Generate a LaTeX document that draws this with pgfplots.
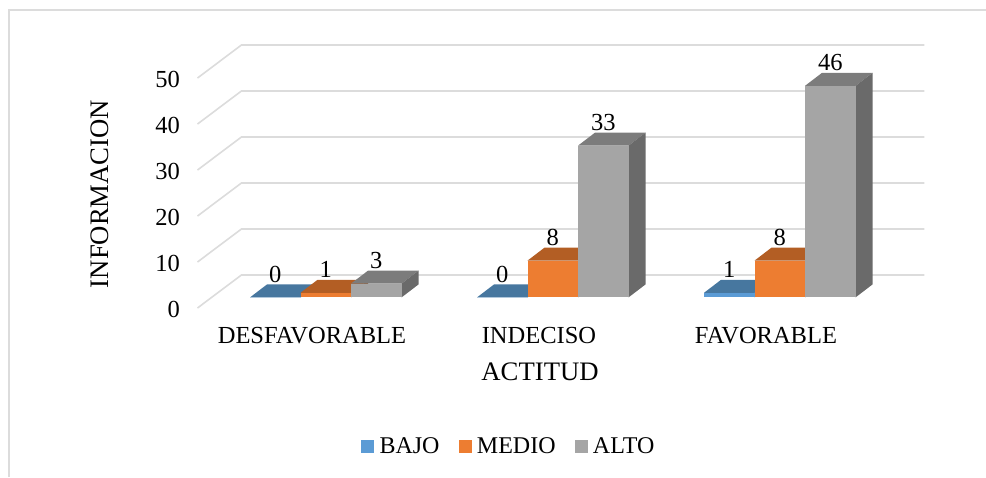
\documentclass[border=0pt]{standalone}
\usepackage{pgfplots}
\pgfplotsset{compat=1.18}
\usepackage{fontspec}
\setmainfont{Liberation Serif}
\definecolor{gridc}{HTML}{DCDCDC}
\definecolor{frontA}{HTML}{5B9BD5}\definecolor{topA}{HTML}{47779F}\definecolor{sideA}{HTML}{3A6690}
\definecolor{frontB}{HTML}{ED7D31}\definecolor{topB}{HTML}{B35E24}\definecolor{sideB}{HTML}{A05420}
\definecolor{frontC}{HTML}{A5A5A5}\definecolor{topC}{HTML}{7C7C7C}\definecolor{sideC}{HTML}{6A6A6A}
\newcommand{\fs}{\fontsize{24.5}{28}\selectfont}
\newcommand{\fl}{\fontsize{26.7}{30}\selectfont}
\def\W{0.2225}\def\B{2.3}\def\DX{0.0749}\def\DY{2.826}
% #1 category, #2 series (0,1,2), #3 value, #4 colour suffix
\newcommand{\threeDbar}[4]{%
  \pgfmathsetmacro\xl{#1-0.2687+\W*#2}%
  \pgfmathsetmacro\xr{\xl+\W}%
  \pgfmathsetmacro\xlb{\xl+\DX}%
  \pgfmathsetmacro\xrb{\xr+\DX}%
  \pgfmathsetmacro\yt{\B+#3}%
  \pgfmathsetmacro\ybb{\B+\DY}%
  \pgfmathsetmacro\ytb{\yt+\DY}%
  \pgfmathsetmacro\xc{\xl+\W/2}%
  \pgfmathsetmacro\yl{\ytb+0.5}%
  \edef\tmp{%
    \noexpand\addplot[fill=top#4,draw=none,forget plot] coordinates {(\xl,\yt)(\xr,\yt)(\xrb,\ytb)(\xlb,\ytb)} -- cycle;
    \noexpand\addplot[fill=side#4,draw=none,forget plot] coordinates {(\xr,\B)(\xrb,\ybb)(\xrb,\ytb)(\xr,\yt)} -- cycle;
    \noexpand\addplot[fill=front#4,draw=none,forget plot] coordinates {(\xl,\B)(\xr,\B)(\xr,\yt)(\xl,\yt)} -- cycle;
    \noexpand\node[anchor=base,inner sep=0pt,font=\noexpand\fs] at (axis cs:\xc,\yl) {#3};
  }\tmp
}
\begin{document}
\begin{tikzpicture}[x=1pt,y=1pt]
\path[use as bounding box] (0,0) rectangle (986,477);
\draw[gridc,line width=1.8pt] (9,0) -- (9,467) -- (986,467);
\begin{axis}[
  at={(197.5pt,169pt)},anchor=south west,
  scale only axis,width=681pt,height=230pt,
  xmin=-0.5,xmax=2.5,ymin=0,ymax=50,
  clip=false,
  axis line style={draw=none},
  tick style={draw=none},
  xtick={0,1,2},
  xticklabels={DESFAVORABLE,INDECISO,FAVORABLE},
  ytick={0,10,20,30,40,50},
  /pgf/number format/assume math mode=true,
  tick label style={font=\fs},
  yticklabel style={xshift=-14pt,yshift=-1pt},
  xticklabel style={yshift=-16pt,xshift=1pt},
  xlabel={ACTITUD},
  ylabel={INFORMACION},
  label style={font=\fl},
  xlabel style={at={(rel axis cs:0.503,-0.278)},anchor=center},
  ylabel style={at={(rel axis cs:-0.143,0.496)},anchor=center,rotate=0},
  legend columns=3,
  legend style={at={(rel axis cs:0.4585,-0.6)},anchor=center,draw=none,fill=none,
    font=\fontsize{24}{28}\selectfont,
    /tikz/every odd column/.append style={column sep=2pt},
    /tikz/every even column/.append style={column sep=15pt},
    nodes={inner sep=4pt}},
  legend image code/.code={\fill[#1] (0pt,-6pt) rectangle (12pt,6pt);},
]
% walls
\foreach \v in {0,10,20,30,40,50}{
  \pgfmathsetmacro\vb{\v+7.174}
  \edef\tmp{\noexpand\addplot[gridc,line width=1.6pt,forget plot] coordinates {(-0.5,\v)(-0.3062,\vb)(2.7026,\vb)};}
  \tmp
}
\addlegendimage{frontA}\addlegendentry{BAJO}
\addlegendimage{frontB}\addlegendentry{MEDIO}
\addlegendimage{frontC}\addlegendentry{ALTO}
% DESFAVORABLE
\threeDbar{0}{0}{0}{A}
\threeDbar{0}{1}{1}{B}
\threeDbar{0}{2}{3}{C}
% INDECISO
\threeDbar{1}{0}{0}{A}
\threeDbar{1}{1}{8}{B}
\threeDbar{1}{2}{33}{C}
% FAVORABLE
\threeDbar{2}{0}{1}{A}
\threeDbar{2}{1}{8}{B}
\threeDbar{2}{2}{46}{C}
\end{axis}
\end{tikzpicture}
\end{document}
